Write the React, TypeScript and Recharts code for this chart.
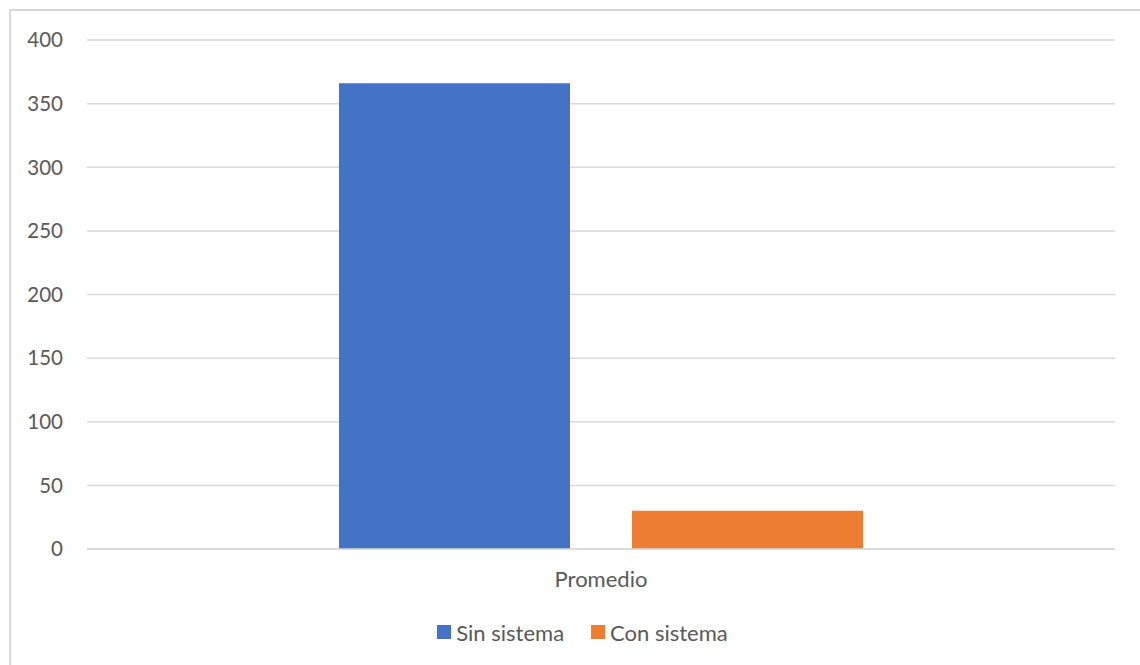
import React from 'react';
import { BarChart, Bar, XAxis, YAxis, CartesianGrid, Legend } from 'recharts';

const categories = ['Promedio'];
const sinSistema = [366];
const conSistema = [30];
const yTicks = [0, 50, 100, 150, 200, 250, 300, 350, 400];
const seriesNames = ['Sin sistema', 'Con sistema'];
const seriesColors = ['#4472C4', '#ED7D31'];

const data = categories.map((c, i) => ({ name: c, sin: sinSistema[i], con: conSistema[i] }));

const FONT = 'Lato, "Open Sans", sans-serif';

const LegendContent = () => (
  <div style={{ display: 'flex', justifyContent: 'center', alignItems: 'center', height: 52, paddingBottom: 14, paddingLeft: 50, boxSizing: 'border-box', fontFamily: FONT, fontSize: 22, color: '#595959' }}>
    {seriesNames.map((n, i) => (
      <div key={n} style={{ display: 'flex', alignItems: 'center', marginLeft: i === 0 ? 0 : 27 }}>
        <span style={{ display: 'inline-block', width: 14, height: 14, background: seriesColors[i], marginRight: 5 }} />
        <span>{n}</span>
      </div>
    ))}
  </div>
);

export default function App() {
  return (
    <div style={{ position: 'absolute', left: 0, top: 0, width: 1140, height: 665, background: '#fff', overflow: 'hidden' }}>
      <div style={{ position: 'absolute', left: 9, top: 9, width: 1160, height: 700, border: '2px solid #d9d9d9', boxSizing: 'border-box' }} />
      <div style={{ position: 'absolute', left: 0, top: 0 }}>
        <BarChart width={1140} height={665} data={data} margin={{ top: 40, right: 25, left: 0, bottom: 0 }} barCategoryGap={252} barGap={62}>
          <CartesianGrid vertical={false} stroke="#d9d9d9" strokeWidth={1.5} />
          <XAxis dataKey="name" height={64} axisLine={{ stroke: '#d9d9d9', strokeWidth: 1.5 }} tickLine={false} tickSize={0} tickMargin={22}
            tick={{ fontFamily: FONT, fontSize: 22, fill: '#595959' }} />
          <YAxis width={87} domain={[0, 400]} ticks={yTicks} axisLine={false} tickLine={false} tickSize={0} tickMargin={24}
            tick={{ fontFamily: FONT, fontSize: 20.5, fill: '#595959' }} interval={0} />
          <Legend verticalAlign="bottom" content={<LegendContent />} />
          <Bar dataKey="sin" name={seriesNames[0]} fill={seriesColors[0]} isAnimationActive={false} />
          <Bar dataKey="con" name={seriesNames[1]} fill={seriesColors[1]} isAnimationActive={false} />
        </BarChart>
      </div>
    </div>
  );
}
